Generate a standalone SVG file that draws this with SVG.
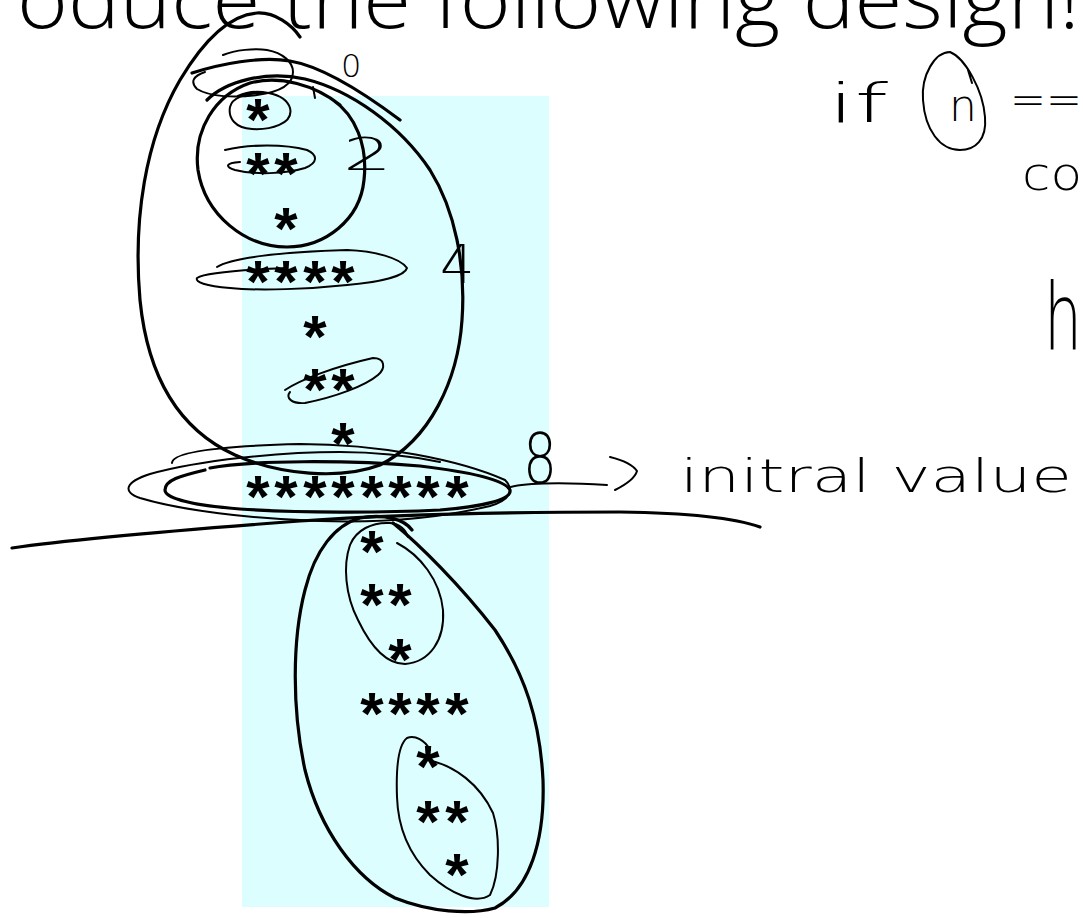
<svg xmlns="http://www.w3.org/2000/svg" width="1083" height="918" viewBox="0 0 1083 918">
<style>
.title{font-family:"Open Sans","Liberation Sans",sans-serif;font-weight:300;font-size:82px;fill:#000}
.star{font-family:"Liberation Sans",Arial,sans-serif;font-weight:bold;font-size:60px;fill:#000;text-anchor:middle}
.hand{font-family:"DejaVu Sans","Liberation Sans",sans-serif;font-weight:200;fill:#000}
.ink{fill:none;stroke:#000;stroke-linecap:round;stroke-linejoin:round}
.thick{stroke-width:3.2}
.thin{stroke-width:2}
</style>
<rect width="1083" height="918" fill="#fff"/>
<text class="title" x="17" y="28" textLength="1063" lengthAdjust="spacingAndGlyphs">oduce the following design!</text>
<rect id="panel" x="242" y="96" width="307" height="811" fill="#DCFEFE"/>
<g id="pattern">
<text class="star" x="258" y="140">*</text>
<text class="star" x="258 286" y="194">**</text>
<text class="star" x="286" y="249">*</text>
<text class="star" x="258 286 315 343" y="302">****</text>
<text class="star" x="315" y="357">*</text>
<text class="star" x="315 343" y="410">**</text>
<text class="star" x="343" y="464">*</text>
<text class="star" x="258 286 315 343 372 400 428 457" y="517">********</text>
<text class="star" x="372" y="572">*</text>
<text class="star" x="372 400" y="625">**</text>
<text class="star" x="400" y="680">*</text>
<text class="star" x="372 400 428 457" y="734">****</text>
<text class="star" x="428" y="787">*</text>
<text class="star" x="428 457" y="842">**</text>
<text class="star" x="457" y="895">*</text>
</g>
<g id="annotations">
<path class="ink thick" d="M207,100 C225,82 265,70 305,79 C350,90 400,125 430,170 C455,210 466,265 462,320 C458,380 430,440 380,465 C340,480 280,475 235,455 C180,430 148,380 140,300 C133,220 145,140 180,80 C205,38 230,15 257,13 C275,12 292,25 300,37"/>
<path class="ink thick" d="M192,73 C220,64 260,56 290,61 C320,66 360,90 400,120"/>
<path class="ink thin" d="M223,55 C235,50 255,48 267,50 C283,53 293,62 293,72 C293,85 280,92 257,95 C235,98 210,97 197,89 C190,82 193,76 205,72"/>
<path class="ink thin" d="M238,96 C255,88 285,92 290,108 C294,124 270,130 252,129 C235,128 228,118 230,107 C232,98 245,93 262,93"/>
<path class="ink thin" d="M313,87 L315,98"/>
<path class="ink thick" d="M333,100 C355,115 368,145 364,180 C360,220 325,247 287,247 C245,247 205,215 198,170 C193,130 215,95 250,83 C280,75 315,85 340,105"/>
<path class="ink thin" d="M225,150 C250,144 285,144 307,150 C318,155 318,163 305,168 C285,174 255,175 235,170 C225,167 225,163 240,162"/>
<path class="ink thin" d="M217,267 C230,258 280,252 347,250 C375,251 400,258 407,268 C405,276 380,282 347,285 C310,289 260,291 230,288 C205,286 195,282 197,278 C205,273 240,270 287,268"/>
<path class="ink thin" d="M285,390 C300,380 333,367 373,358 C385,358 386,368 378,375 C365,386 335,397 305,403 C292,404 285,398 290,392"/>
<path class="ink thin" d="M172,463 C172,452 220,446 300,444 C380,444 460,460 505,480 C515,490 510,500 490,506 C440,518 380,523 320,521 C250,519 180,510 140,498 C122,492 125,482 150,474 C200,460 280,452 340,452 C380,452 420,458 440,462"/>
<path class="ink thick" d="M210,468 C250,460 350,460 420,466 C470,472 505,480 510,490 C512,500 480,507 440,510 C380,513 300,513 240,509 C190,505 165,498 165,490 C165,480 180,476 205,470"/>
<path class="ink thin" d="M508,488 C520,483 560,482 607,485"/>
<path class="ink thin" d="M610,457 C622,460 633,465 637,471 C635,478 625,485 615,490"/>
<path class="ink thick" d="M12,548 C60,541 180,530 300,521 C400,514 520,512 620,512 C690,513 735,518 760,527"/>
<path class="ink thick" d="M393,523 C420,545 460,585 495,630 C525,675 540,720 543,780 C545,840 530,890 495,908 C470,915 430,912 395,898 C355,878 320,830 305,770 C292,710 292,640 305,590 C315,550 335,525 360,518 C385,513 405,520 412,530"/>
<path class="ink thin" d="M397,543 C420,555 440,580 443,610 C445,640 430,662 405,664 C385,664 370,645 358,620 C345,595 343,565 350,545 C356,530 372,522 390,523 C400,524 406,530 408,537"/>
<path class="ink thin" d="M427,760 C455,765 480,785 493,813 C500,835 500,875 490,895 C475,905 450,893 430,875 C410,855 398,830 397,797 C396,770 398,745 407,738 C415,735 425,740 430,750"/>
<path class="ink thin" d="M950,52 C965,58 983,90 985,117 C987,140 975,150 960,150 C940,150 925,130 923,100 C921,75 935,52 950,52 Z M968,70 L972,83"/>
</g>
<g id="labels">
<text class="hand" x="341" y="77" font-size="32">0</text>
<text class="hand" x="343" y="170" font-size="44" textLength="49" lengthAdjust="spacingAndGlyphs">2</text>
<text class="hand" x="440" y="283" font-size="54">4</text>
<text class="hand" x="523" y="483" font-size="70" textLength="34" lengthAdjust="spacingAndGlyphs">8</text>
<text class="hand" x="680" y="492" font-size="46" textLength="392" lengthAdjust="spacingAndGlyphs">initral value</text>
<text class="hand" x="828" y="122" font-size="54" textLength="60" lengthAdjust="spacingAndGlyphs">if</text>
<text class="hand" x="949" y="121" font-size="44">n</text>
<text class="hand" x="1010" y="115" font-size="44" textLength="72" lengthAdjust="spacingAndGlyphs">==</text>
<text class="hand" x="1022" y="190" font-size="46" textLength="60" lengthAdjust="spacingAndGlyphs">co</text>
<text class="hand" x="1044" y="350" font-size="92" textLength="38" lengthAdjust="spacingAndGlyphs">h</text>
</g>
</svg>
